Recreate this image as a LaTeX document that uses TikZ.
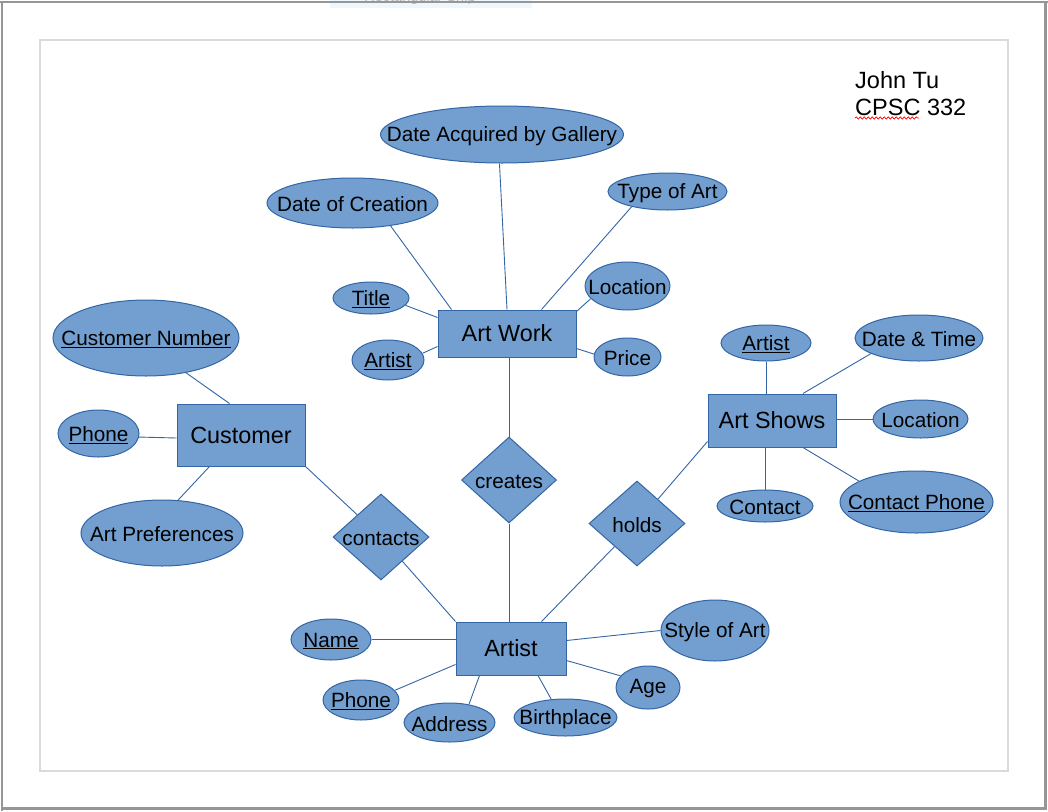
\documentclass[tikz,border=0pt]{standalone}
\usepackage{fontspec}
\setmainfont{Liberation Sans}
\usetikzlibrary{shapes.geometric,calc,backgrounds,decorations.pathmorphing}
\definecolor{bd}{RGB}{52,101,164}
\definecolor{fc}{RGB}{114,159,207}
\definecolor{tipbg}{RGB}{238,246,254}
\definecolor{tiptx}{RGB}{185,185,185}
\definecolor{pagegray}{RGB}{218,218,218}
\definecolor{framegray}{RGB}{150,150,150}
\begin{document}
\begin{tikzpicture}[x=1pt,y=-1pt,
  lbl/.style={font=\fontsize{20.7}{24}\selectfont, inner sep=0pt, yshift=-1.5pt},
  attr/.style={ellipse, draw=bd, fill=fc, line width=1pt, inner sep=0pt, label={[lbl]center:#1}},
  ent/.style={rectangle, draw=bd, fill=fc, line width=1pt, inner sep=0pt, font=\fontsize{23.4}{28}\selectfont},
  rel/.style={diamond, draw=bd, fill=fc, line width=1pt, inner sep=0pt, label={[lbl]center:#1}},
  sz/.style 2 args={minimum width=#1pt, minimum height=#2pt},
  conn/.style={draw=bd, line width=0.9pt},
  note/.style={font=\fontsize{23.5}{27}\selectfont, inner sep=0pt, anchor=base west}]
\useasboundingbox (0,0) rectangle (1048,811);

% entities
\node[ent, sz={138}{47}] (aw) at (507,333.5) {Art Work};
\node[ent, sz={128}{62}] (cu) at (241,435) {Customer};
\node[ent, sz={128}{53}] (as) at (772,420.5) {Art Shows};
\node[ent, sz={110}{53}] (ar) at (511,648.5) {Artist};

% relationships
\node[rel=creates, sz={95}{86}] (cr) at (509,480) {};
\node[rel=contacts, sz={96}{86}] (ct) at (381,537) {};
\node[rel=holds, sz={96}{85}] (ho) at (637,523.5) {};

% Art Work attributes
\node[attr={Date Acquired by Gallery}, sz={243}{57}] (dag) at (502,134.5) {};
\node[attr={Date of Creation}, sz={171}{50}] (dc) at (352.5,203) {};
\node[attr={Type of Art}, sz={119}{37}] (ta) at (667.5,191.5) {};
\node[attr={Location}, sz={85}{48}] (loca) at (627.5,286) {};
\node[attr={\underline{Title}}, sz={76}{32}] (ti) at (371,298) {};
\node[attr={\underline{Artist}}, sz={72}{40}] (arta) at (388,360) {};
\node[attr={Price}, sz={67}{38}] (pr) at (627.5,357) {};

% Customer attributes
\node[attr={\underline{Customer Number}}, sz={186}{76}] (cn) at (146,338) {};
\node[attr={\underline{Phone}}, sz={81}{47}] (pha) at (98.5,433.5) {};
\node[attr={Art Preferences}, sz={162}{66}] (ap) at (162,533) {};

% Art Shows attributes
\node[attr={\underline{Artist}}, sz={90}{36}] (artb) at (766,343) {};
\node[attr={Date \& Time}, sz={128}{46}] (dt) at (919,338) {};
\node[attr={Location}, sz={95}{38}] (locb) at (920.5,419) {};
\node[attr={\underline{Contact Phone}}, sz={153}{62}] (cp) at (916.5,502) {};
\node[attr={Contact}, sz={96}{32}] (co) at (765,506) {};

% Artist attributes
\node[attr={\underline{Name}}, sz={80}{41}] (nm) at (331,639.5) {};
\node[attr={\underline{Phone}}, sz={76}{40}] (phb) at (361,700) {};
\node[attr={Address}, sz={91}{39}] (ad) at (449.5,722.5) {};
\node[attr={Birthplace}, sz={103}{37}] (bp) at (565.5,717.5) {};
\node[attr={Age}, sz={64}{43}] (ag) at (648,687.5) {};
\node[attr={Style of Art}, sz={108}{61}] (sa) at (715,630.5) {};

% author note
\node[note] (jt) at (855,88) {John Tu};
\node[note] (cl) at (855,115) {CPSC 332};

\begin{scope}[on background layer]
  % window frame and page
  \draw[framegray, line width=2pt] (2,811) -- (2,2) -- (1048,2);
  \draw[framegray, line width=3pt] (1045.5,2) -- (1045.5,808.5) -- (2,808.5);
  \fill[tipbg] (330,0) rectangle (532,8);
  \begin{scope}
    \clip (330,0) rectangle (532,8);
    \node[font=\fontsize{14.5}{16}\selectfont, text=tiptx, anchor=base, inner sep=0pt] (tip) at (420,1.5) {Rectangular Snip};
  \end{scope}
  \draw[framegray, line width=2pt] (0,2) -- (1048,2);
  \draw[pagegray, line width=1.5pt] (40,40) rectangle (1008,771);
  \draw[red, line width=0.7pt, decorate, decoration={snake, amplitude=1.2pt, segment length=4pt}] (855,118) -- (919,118);

  % Art Work connectors
  \draw[conn] (dag.-95) -- (aw.north);
  \draw[conn] (dc.-31.6) -- ($(aw.north west)+(14,0)$);
  \draw[conn] (ta.-157.7) -- ($(aw.north east)+(-35,0)$);
  \draw[conn] (loca.-161) -- ($(aw.north east)+(0,2)$);
  \draw[conn] (ti.-12.5) -- ($(aw.north west)+(0,8)$);
  \draw[conn] (arta.11) -- ($(aw.south west)+(0,-11)$);
  \draw[conn] (pr.175) -- ($(aw.south east)+(0,-9)$);
  \draw[conn] (cr.north) -- (cr.north |- aw.south);
  \draw[conn] (cr.south) -- (cr.south |- ar.north);

  % Customer connectors
  \draw[conn] (cn.-41.2) -- ($(cu.north west)+(53,0)$);
  \draw[conn] (pha.-5) -- ($(cu.west)+(0,3)$);
  \draw[conn] (ap.64) -- ($(cu.south west)+(33,0)$);
  \draw[conn] (cu.south east) -- (ct);
  \draw[conn] (ct) -- (ar.north west);

  % Art Shows connectors
  \draw[conn] (artb.south) -- (artb.south |- as.north);
  \draw[conn] (dt.-162.6) -- ($(as.north)+(31,0)$);
  \draw[conn] (locb.west) -- (locb.west -| as.east);
  \draw[conn] (cp.160.2) -- ($(as.south)+(31,0)$);
  \draw[conn] (co.north) -- (co.north |- as.south);
  \draw[conn] ($(as.south west)+(0,-6)$) -- (ho);
  \draw[conn] (ho) -- ($(ar.north east)+(-25,0)$);

  % Artist connectors
  \draw[conn] (nm.east) -- (nm.east -| ar.west);
  \draw[conn] (phb.16.6) -- ($(ar.south west)+(0,-11)$);
  \draw[conn] (ad.43.5) -- ($(ar.south west)+(24,0)$);
  \draw[conn] (bp.128) -- ($(ar.south)+(27,0)$);
  \draw[conn] (ag.157.8) -- ($(ar.east)+(0,12)$);
  \draw[conn] (sa.west) -- ($(ar.east)+(0,-8)$);
\end{scope}
\end{tikzpicture}
\end{document}
